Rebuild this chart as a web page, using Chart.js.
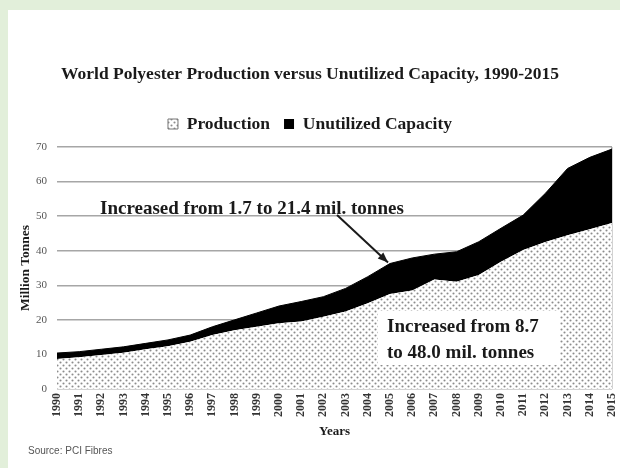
<!DOCTYPE html>
<html>
<head>
<meta charset="utf-8">
<script src="https://cdn.jsdelivr.net/npm/chart.js@4.4.1/dist/chart.umd.min.js"></script>
<style>
  html, body { margin: 0; padding: 0; background: #e2efda; }
  #card { position: absolute; left: 8px; top: 10px; width: 612px; height: 458px; background: #ffffff; }
  canvas { display: block; }
</style>
</head>
<body>
<div id="card"><canvas id="c" width="612" height="458"></canvas></div>
<script>
// Years on the x axis
const years = ['1990','1991','1992','1993','1994','1995','1996','1997','1998','1999','2000','2001','2002',
               '2003','2004','2005','2006','2007','2008','2009','2010','2011','2012','2013','2014','2015'];

// World polyester production, million tonnes
const production = [8.7, 9.2, 9.8, 10.5, 11.5, 12.4, 13.7, 15.6, 17.0, 18.0, 19.0, 19.5, 20.9,
                    22.4, 24.8, 27.5, 28.5, 31.7, 31.0, 33.0, 36.8, 40.2, 42.5, 44.5, 46.2, 48.0];

// Unutilized capacity stacked on top of production, million tonnes
const unutilized = [1.7, 1.6, 1.7, 1.7, 1.7, 1.8, 1.9, 2.4, 3.0, 4.0, 5.0, 5.8, 5.8,
                    6.7, 7.7, 8.8, 9.4, 7.3, 8.7, 9.6, 9.7, 10.1, 14.1, 19.3, 20.8, 21.4];

const seriesNames = ['Production', 'Unutilized Capacity'];
const yTicks = { min: 0, max: 70, step: 10 };

const chartTitle = 'World Polyester Production versus Unutilized Capacity, 1990-2015';
const noteCapacity = 'Increased from 1.7 to 21.4 mil. tonnes';
const noteProduction = ['Increased from 8.7', 'to 48.0 mil. tonnes'];
const sourceNote = 'Source: PCI Fibres';

const SERIF = '"Liberation Serif", "Times New Roman", serif';

const canvas = document.getElementById('c');
const ctx = canvas.getContext('2d');

// Dotted fill for the production area
function dotPattern() {
  const t = document.createElement('canvas');
  t.width = 6; t.height = 6;
  const g = t.getContext('2d');
  g.fillStyle = '#ffffff';
  g.fillRect(0, 0, 6, 6);
  g.fillStyle = '#8c8c8c';
  g.beginPath(); g.arc(1.5, 1.5, 1.05, 0, Math.PI * 2); g.fill();
  g.beginPath(); g.arc(4.5, 4.5, 1.05, 0, Math.PI * 2); g.fill();
  return ctx.createPattern(t, 'repeat');
}
const dots = dotPattern();

// Small gap between the legend and the plot area
const spacerPlugin = {
  id: 'spacer',
  beforeInit(chart) {
    Chart.layouts.addBox(chart, {
      position: 'top', weight: 0, fullSize: true,
      options: { stackWeight: 1 },
      left: 0, top: 0, right: 0, bottom: 0, width: 0, height: 0,
      isHorizontal() { return true; },
      update(maxWidth) { this.width = maxWidth; this.height = 4.25; return 4.25; },
      draw() {}
    });
  }
};

// Callout texts, arrow and source line
const notesPlugin = {
  id: 'notes',
  afterDatasetsDraw(chart) {
    const c = chart.ctx;
    const xs = chart.scales.x, ys = chart.scales.y;
    c.save();
    c.fillStyle = '#1a1a1a';
    c.font = 'bold 19px ' + SERIF;
    c.textBaseline = 'middle';
    c.textAlign = 'left';
    c.fillText(noteCapacity, 92, 199);

    // arrow to the unutilized band around 2005
    const i = years.indexOf('2005');
    const tx = xs.getPixelForValue(i) - 2;
    const ty = ys.getPixelForValue(production[i] + unutilized[i]) - 1;
    const sx = 329, sy = 205;
    c.strokeStyle = '#1a1a1a';
    c.lineWidth = 2;
    c.beginPath(); c.moveTo(sx, sy); c.lineTo(tx, ty); c.stroke();
    const ang = Math.atan2(ty - sy, tx - sx);
    c.beginPath();
    c.moveTo(tx, ty);
    c.lineTo(tx - 11 * Math.cos(ang - 0.38), ty - 11 * Math.sin(ang - 0.38));
    c.lineTo(tx - 11 * Math.cos(ang + 0.38), ty - 11 * Math.sin(ang + 0.38));
    c.closePath(); c.fill();

    // production callout on a white box
    c.fillStyle = '#ffffff';
    c.fillRect(370, 301, 182, 54);
    c.fillStyle = '#1a1a1a';
    c.fillText(noteProduction[0], 379, 317);
    c.fillText(noteProduction[1], 379, 343);

    c.font = '10px "Liberation Sans", Arial, sans-serif';
    c.fillStyle = '#555555';
    c.fillText(sourceNote, 20, 441);
    c.restore();
  }
};

const baseLabels = Chart.defaults.plugins.legend.labels.generateLabels;

new Chart(ctx, {
  type: 'line',
  data: {
    labels: years,
    datasets: [
      {
        label: seriesNames[0],
        data: production,
        fill: 'origin',
        backgroundColor: dots,
        borderColor: '#666666',
        borderWidth: 0,
        pointRadius: 0,
        tension: 0
      },
      {
        label: seriesNames[1],
        data: unutilized,
        fill: '-1',
        backgroundColor: '#000000',
        borderColor: '#000000',
        borderWidth: 1,
        pointRadius: 0,
        tension: 0
      }
    ]
  },
  options: {
    responsive: false,
    animation: false,
    layout: { padding: { left: 0, right: 8, top: 0, bottom: 0 } },
    plugins: {
      title: {
        display: true,
        text: chartTitle,
        color: '#1a1a1a',
        font: { family: SERIF, size: 17.5, weight: 'bold' },
        padding: { top: 53.5, bottom: 16.75 }
      },
      legend: {
        display: true,
        position: 'top',
        labels: {
          color: '#1a1a1a',
          font: { family: SERIF, size: 17.5, weight: 'bold' },
          boxWidth: 10,
          boxHeight: 10,
          padding: 14,
          generateLabels(chart) {
            return baseLabels(chart).map((it, k) => {
              it.lineWidth = k === 0 ? 1 : 0;
              it.strokeStyle = '#777777';
              return it;
            });
          }
        }
      },
      tooltip: { enabled: false }
    },
    scales: {
      x: {
        grid: {
          display: true,
          drawTicks: false,
          lineWidth: 1.5,
          color: (c) => (c.index === years.length - 1 ? '#a6a6a6' : 'rgba(0,0,0,0)')
        },
        border: { display: false },
        ticks: {
          autoSkip: false,
          maxRotation: 90,
          minRotation: 90,
          padding: 4,
          color: '#333333',
          font: { family: SERIF, size: 12, weight: 'bold' }
        },
        title: {
          display: true,
          text: 'Years',
          color: '#1a1a1a',
          font: { family: SERIF, size: 13, weight: 'bold' },
          padding: { top: 0, bottom: 29 }
        },
        afterFit(scale) {
          scale.height = 79;
          scale.paddingLeft = 0;
          scale.paddingRight = 0;
        }
      },
      y: {
        stacked: true,
        min: yTicks.min,
        max: yTicks.max,
        grid: { drawTicks: false, color: '#a6a6a6', lineWidth: 1.5 },
        border: { display: false },
        ticks: {
          stepSize: yTicks.step,
          padding: 10,
          color: '#555555',
          font: { family: SERIF, size: 11 }
        },
        title: {
          display: true,
          text: 'Million Tonnes',
          color: '#1a1a1a',
          font: { family: SERIF, size: 13.5, weight: 'bold' },
          padding: { top: 9, bottom: 0 }
        },
        afterFit(scale) { scale.width = 49; }
      }
    }
  },
  plugins: [spacerPlugin, notesPlugin]
});
</script>
</body>
</html>
